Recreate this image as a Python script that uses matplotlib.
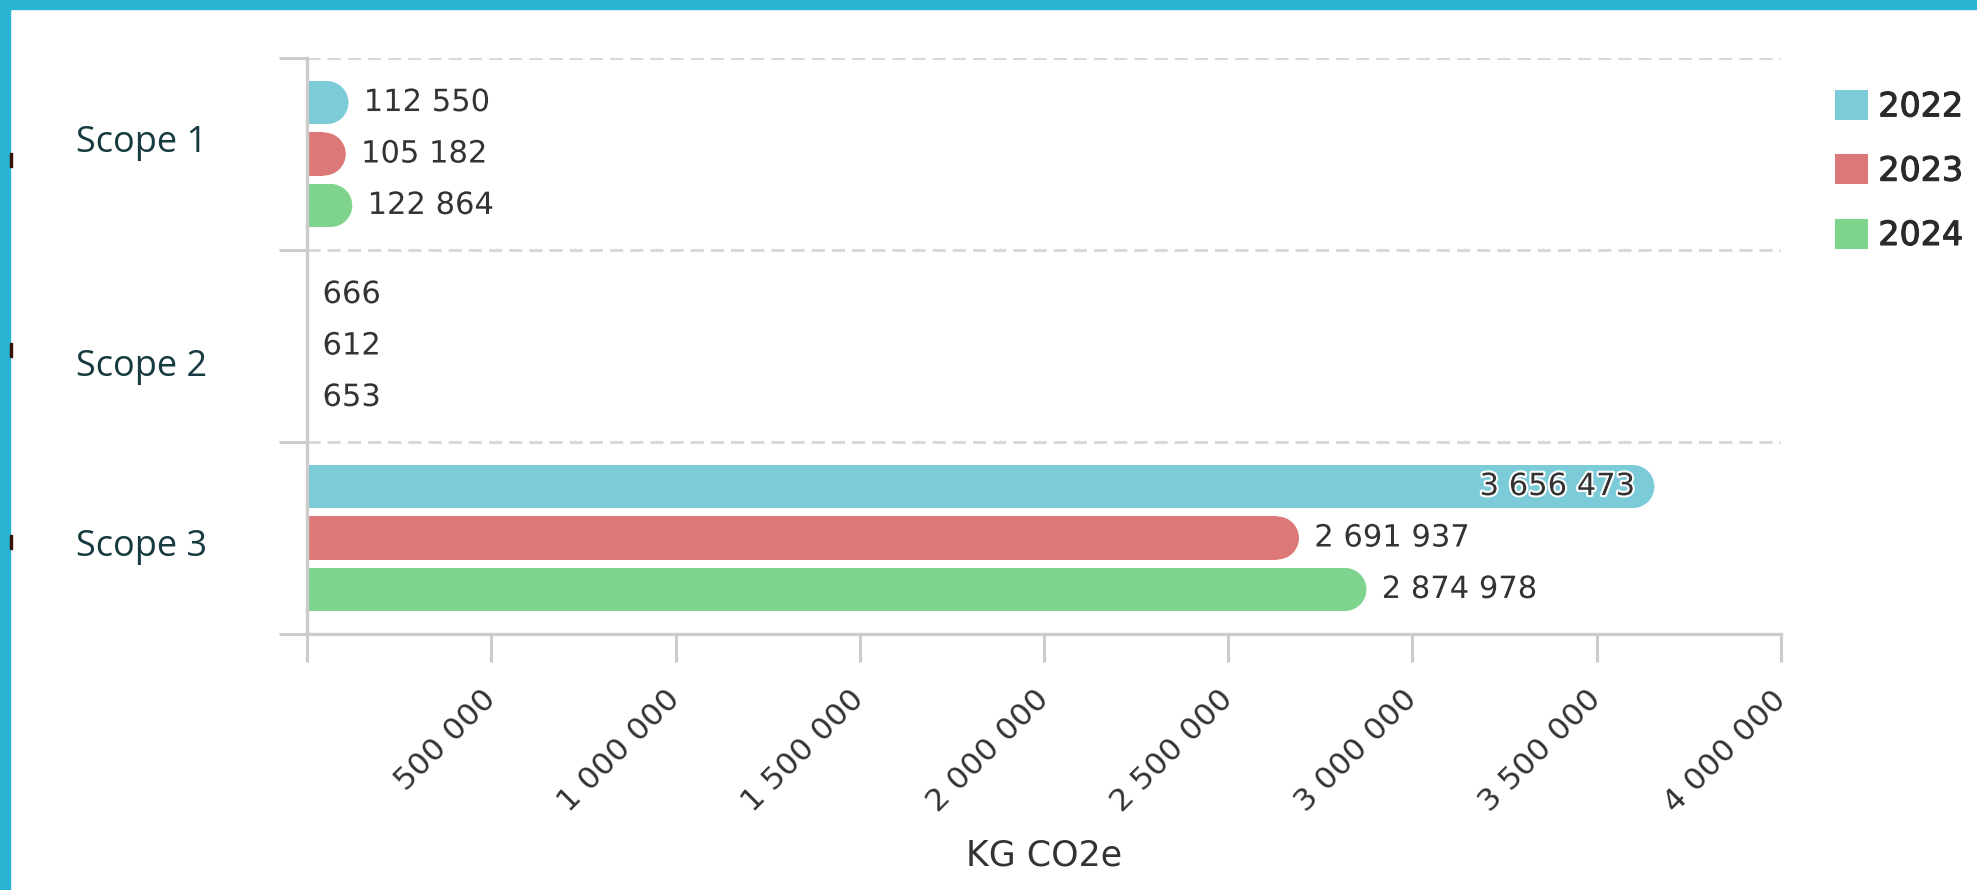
import matplotlib
matplotlib.use('Agg')
import matplotlib.pyplot as plt
import matplotlib.patheffects as pe
import matplotlib.transforms as mtransforms
from matplotlib.patches import Rectangle, Ellipse, Patch
from matplotlib.ticker import FuncFormatter, MultipleLocator


categories = ['Scope 1', 'Scope 2', 'Scope 3']
years = ['2022', '2023', '2024']
v2022 = [112550, 666, 3656473]
v2023 = [105182, 612, 2691937]
v2024 = [122864, 653, 2874978]
series = [v2022, v2023, v2024]
colors = ['#7bcbd8', '#dd7878', '#7fd48d']

xmax = 4000000
pitch = 0.268
bar_h = 0.224

W, H = 1977, 890
fig = plt.figure(figsize=(W / 100, H / 100), dpi=100)
fig.patch.set_facecolor('white')

# frame strips of the page
border = '#28b3d3'
fig.patches.append(Rectangle((0, 1 - 9 / H), 1, 9 / H, transform=fig.transFigure,
                             color=border, zorder=0))
fig.patches.append(Rectangle((0, 0), 10 / W, 1, transform=fig.transFigure,
                             color=border, zorder=0))
for yy in [160, 350, 542]:
    fig.patches.append(Rectangle((10 / W, 1 - (yy + 7) / H), 2 / W, 14 / H,
                                 transform=fig.transFigure, color='#3a1205', zorder=1))

ax = fig.add_axes([307 / W, 1 - 634 / H, (1781 - 307) / W, (634 - 58) / H])
ax.set_xlim(0, xmax)
ax.set_ylim(len(categories) - 0.5, -0.5)

# pixel -> data conversions for the rounded bar ends
px_x = xmax / ((1781 - 307))
px_y = len(categories) / (634 - 58)
rx = (bar_h / px_y / 2) * px_x

outline = [pe.withStroke(linewidth=3, foreground='white')]
for k, vals in enumerate(series):
    for i, v in enumerate(vals):
        yc = i + (k - 1) * pitch
        if v > rx:
            ax.barh(yc, v - rx, height=bar_h, color=colors[k], zorder=2)
            ax.add_patch(Ellipse((v - rx, yc), 2 * rx, bar_h, color=colors[k],
                                 linewidth=0, zorder=2))
        else:
            ax.barh(yc, v, height=bar_h, color=colors[k], zorder=2)
        txt = f'{v:,}'.replace(',', ' ')
        if v > 0.88 * xmax:
            ax.annotate(txt, (v, yc), xytext=(-14, 0), textcoords='offset points',
                        ha='right', va='center', fontsize=22, color='#333333',
                        path_effects=outline, zorder=5)
        else:
            ax.annotate(txt, (v, yc), xytext=(11, 0), textcoords='offset points',
                        ha='left', va='center', fontsize=22, color='#333333',
                        path_effects=outline, zorder=5)

for s in ['top', 'right']:
    ax.spines[s].set_visible(False)
for s in ['left', 'bottom']:
    ax.spines[s].set_color('#cccccc')
    ax.spines[s].set_linewidth(2.4)
    ax.spines[s].set_zorder(3)

# y axis: category boundaries get ticks and dashed grid
ax.set_yticks(range(len(categories)))
ax.set_yticklabels(categories, fontfamily='Open Sans', fontsize=26, color='#173a40',
                   ha='center')
ax.set_yticks([i - 0.5 for i in range(len(categories) + 1)], minor=True)
ax.tick_params(axis='y', which='major', length=0, pad=119)
ax.tick_params(axis='y', which='minor', length=20, width=2.2, color='#cccccc')
ax.yaxis.grid(True, which='minor', color='#d9d9d9', linewidth=2.2,
              linestyle=(0, (4.3, 2.3)))
ax.set_axisbelow(True)
# the scope labels are not quite centred on their rows in the original
for lab, dy in zip(ax.get_yticklabels(), [11, -12, -3]):
    lab.set_transform(lab.get_transform() +
                      mtransforms.ScaledTranslation(0, dy / 72, fig.dpi_scale_trans))

ax.xaxis.set_major_locator(MultipleLocator(500000))
ax.xaxis.set_major_formatter(FuncFormatter(
    lambda x, p: '' if x == 0 else f'{int(x):,}'.replace(',', ' ')))
ax.tick_params(axis='x', length=20, width=2.2, color='#cccccc', pad=24,
               labelsize=22.5, labelcolor='#333333')
for lab in ax.get_xticklabels():
    lab.set_rotation(45)
    lab.set_ha('right')
    lab.set_va('center')
    lab.set_rotation_mode('anchor')

fig.text(1044 / W, 1 - 856 / H, 'KG CO2e', ha='center', va='center',
         fontsize=25, color='#333333')

handles = [Patch(facecolor=c, edgecolor='none') for c in colors]
fig.legend(handles, years, loc='upper left', bbox_to_anchor=(1835 / W, 1 - 90 / H),
           frameon=False, handlelength=1.0, handleheight=1.0,
           handletextpad=0.3, labelspacing=0.93, borderpad=0, borderaxespad=0,
           prop={'size': 24})
for t in fig.legends[0].get_texts():
    t.set_color('#2a2a2a')
    t.set_path_effects([pe.withStroke(linewidth=0.8, foreground='#2a2a2a')])

fig.savefig('out.png', dpi=100, facecolor='white')
